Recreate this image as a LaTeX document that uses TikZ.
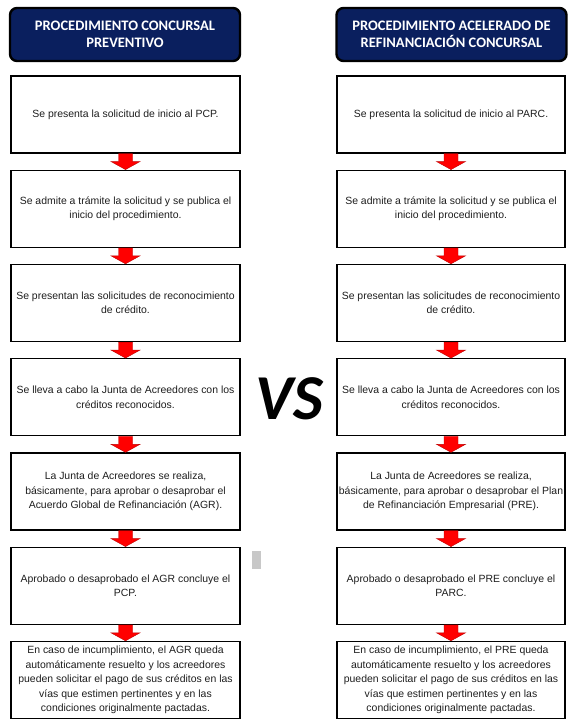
\documentclass[tikz,border=0pt]{standalone}
\usepackage{fontspec}
\setmainfont{Liberation Sans}
\newfontfamily\hdfont{Carlito}
\usetikzlibrary{calc}
\definecolor{navy}{HTML}{0A1F5E}
\definecolor{arrowred}{HTML}{FF0000}
\definecolor{txt}{HTML}{1E1E1E}
\definecolor{marker}{HTML}{C8C8C8}
\newcommand\flowarrow[2]{%
  \fill[arrowred, draw=arrowred!75!black, line width=0.4pt]
    ($(#1.south)+(-7,0)$) -- ($(#2.north)+(-7,-8)$) -- ($(#2.north)+(-14.5,-8)$)
    -- (#2.north) -- ($(#2.north)+(14.5,-8)$) -- ($(#2.north)+(7,-8)$)
    -- ($(#1.south)+(7,0)$) -- cycle;}
\tikzset{
  header/.style={draw=black, line width=2.4pt, fill=navy, rounded corners=7pt,
    minimum width=230pt, minimum height=53pt, inner sep=0pt, align=center,
    text=white, font=\hdfont\bfseries\fontsize{14.5}{17.5}\selectfont},
  stepbox/.style={draw=black, line width=1.4pt, fill=white,
    minimum height=77pt, inner sep=0pt, align=center, text=txt,
    font=\fontsize{10.45}{14.4}\selectfont},
  leftbox/.style={stepbox, minimum width=229pt},
  rightbox/.style={stepbox, minimum width=228pt},
}
\begin{document}
\begin{tikzpicture}[x=1pt, y=-1pt]
\useasboundingbox (0,0) rectangle (576,726);
\fill[white] (0,0) rectangle (576,726);

\node[header] (hl) at (125,34.5) {PROCEDIMIENTO CONCURSAL\\PREVENTIVO};
\node[header] (hr) at (451.5,34.5) {PROCEDIMIENTO ACELERADO DE\\REFINANCIACIÓN CONCURSAL};

\node[leftbox] (l1) at (125.5,114.5) {Se presenta la solicitud de inicio al PCP.};
\node[leftbox] (l2) at (125.5,208.75) {Se admite a trámite la solicitud y se publica el\\inicio del procedimiento.};
\node[leftbox] (l3) at (125.5,303) {Se presentan las solicitudes de reconocimiento\\de crédito.};
\node[leftbox] (l4) at (125.5,397.25) {Se lleva a cabo la Junta de Acreedores con los\\créditos reconocidos.};
\node[leftbox] (l5) at (125.5,491.5) {La Junta de Acreedores se realiza,\\básicamente, para aprobar o desaprobar el\\Acuerdo Global de Refinanciación (AGR).};
\node[leftbox] (l6) at (125.5,585.75) {Aprobado o desaprobado el AGR concluye el\\PCP.};
\node[leftbox] (l7) at (125.5,680) {En caso de incumplimiento, el AGR queda\\automáticamente resuelto y los acreedores\\pueden solicitar el pago de sus créditos en las\\vías que estimen pertinentes y en las\\condiciones originalmente pactadas.};

\node[rightbox] (r1) at (451,114.5) {Se presenta la solicitud de inicio al PARC.};
\node[rightbox] (r2) at (451,208.75) {Se admite a trámite la solicitud y se publica el\\inicio del procedimiento.};
\node[rightbox] (r3) at (451,303) {Se presentan las solicitudes de reconocimiento\\de crédito.};
\node[rightbox] (r4) at (451,397.25) {Se lleva a cabo la Junta de Acreedores con los\\créditos reconocidos.};
\node[rightbox] (r5) at (451,491.5) {La Junta de Acreedores se realiza,\\básicamente, para aprobar o desaprobar el Plan\\de Refinanciación Empresarial (PRE).};
\node[rightbox] (r6) at (451,585.75) {Aprobado o desaprobado el PRE concluye el\\PARC.};
\node[rightbox] (r7) at (451,680) {En caso de incumplimiento, el PRE queda\\automáticamente resuelto y los acreedores\\pueden solicitar el pago de sus créditos en las\\vías que estimen pertinentes y en las\\condiciones originalmente pactadas.};

\flowarrow{l1}{l2}
\flowarrow{l2}{l3}
\flowarrow{l3}{l4}
\flowarrow{l4}{l5}
\flowarrow{l5}{l6}
\flowarrow{l6}{l7}
\flowarrow{r1}{r2}
\flowarrow{r2}{r3}
\flowarrow{r3}{r4}
\flowarrow{r4}{r5}
\flowarrow{r5}{r6}
\flowarrow{r6}{r7}

\node[inner sep=0pt, text=black, font=\hdfont\bfseries\itshape\fontsize{64}{64}\selectfont] (vs) at (289.5,398.5) {VS};
\fill[marker] (252,551) rectangle (261,569);
\end{tikzpicture}
\end{document}
